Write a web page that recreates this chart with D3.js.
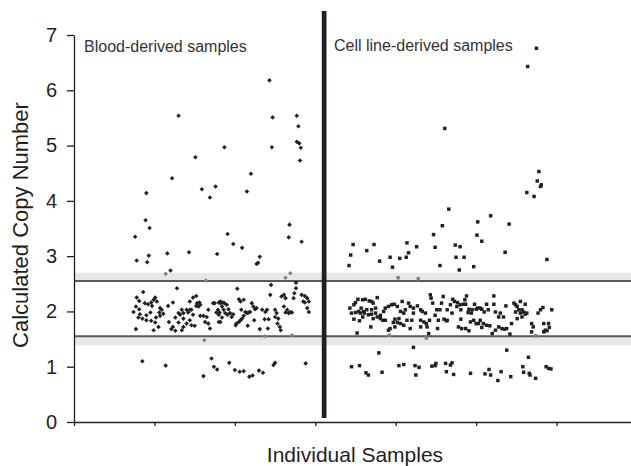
<!DOCTYPE html>
<html><head><meta charset="utf-8">
<script src="https://cdn.jsdelivr.net/npm/d3@7"></script>
<style>body{margin:0;background:#fff} text{font-family:"Liberation Sans",Arial,Helvetica,sans-serif}</style>
</head><body><svg id="chart" width="631" height="466"></svg>
<script>
const yTicks=[0,1,2,3,4,5,6,7];
const xTicks=[0,100,200,300,400,500,600,700];
const groupLabels=["Blood-derived samples","Cell line-derived samples"];
const xTitle="Individual Samples";
const yTitle="Calculated Copy Number";
const cutoffs=[2.55,1.55];
const bands=[[2.53,2.70],[1.39,1.55]];
const dividerSample=311;

// [sample index, calculated copy number]
const bloodPoints=[
[130,5.54],[243,6.18],[247,5.51],[277,5.54],[279,5.35],[277,5.07],[280,5.04],[282,4.96],[187,4.97],[246,4.97],[281,4.73],[151,4.79],[220,4.49],[122,4.41],[159,4.21],[176,4.26],[169,4.06],[215,4.17],[90,4.14],[89,3.65],[94,3.51],[76,3.35],[191,3.40],[198,3.22],[209,3.15],[268,3.57],[267,3.34],[283,3.26],[78,2.92],[93,3.01],[91,2.89],[116,3.05],[143,3.07],[178,3.04],[231,2.99],[227,2.86],[229,2.88],[120,2.74],[276,2.52],[276,2.42],[245,2.48],[86,2.35],[128,2.42],[203,2.41],
[85,1.10],[114,1.02],[171,1.15],[174,1.00],[178,0.95],[161,0.83],[193,1.07],[200,0.94],[206,0.91],[211,0.92],[218,0.82],[222,0.84],[230,0.93],[235,0.89],[248,1.03],[250,1.07],[288,1.06],
[78,2.25],[81,2.19],[77,2.09],[81,2.04],[74,1.99],[82,1.95],[80,1.89],[85,1.87],[77,1.68],[88,2.15],[92,2.13],[96,2.16],[99,2.21],[101,2.25],[103,2.18],[97,2.10],[95,1.98],[90,1.93],[90,1.84],[107,2.06],[109,2.03],[106,1.98],[111,1.96],[107,1.92],[102,1.89],[96,1.83],[101,1.80],[99,1.66],[105,1.72],[117,2.10],[123,2.16],[118,1.81],[126,1.89],[130,1.97],[134,2.03],[132,1.94],[136,1.97],[140,2.03],[142,1.98],[144,2.03],[146,2.03],[136,1.87],[130,1.80],[123,1.72],[121,1.68],[126,1.65],[134,1.66],[136,1.72],[140,1.78],[144,1.84],[146,1.75],[150,1.74],[144,2.18],[148,2.25],[152,2.28],[153,2.15],[156,2.16],[157,2.12],[152,2.10],[155,2.09],[148,1.94],[157,1.92],[161,1.92],[165,1.90],[163,1.81],[167,1.78],[169,1.69],[167,2.03],[173,2.15],[177,1.98],[182,2.15],[181,1.98],[182,1.81],
[175,2.15],[180,2.16],[182,2.18],[185,2.16],[187,2.15],[190,2.12],[184,2.09],[179,2.03],[186,2.03],[192,2.04],[188,1.97],[180,1.94],[184,1.89],[180,1.81],[191,1.94],[194,1.97],[198,1.95],[196,1.90],[205,2.22],[207,2.18],[211,2.21],[208,2.03],[213,1.99],[215,1.97],[217,1.98],[219,1.99],[211,1.92],[209,1.87],[207,1.84],[205,1.81],[202,1.78],[201,1.75],[216,1.74],[221,2.15],[223,2.09],[225,2.04],[227,2.06],[224,1.84],[231,1.68],[234,2.03],[238,1.99],[240,2.03],[237,1.86],[242,1.86],[241,1.69],[244,2.30],[250,2.03],[252,1.97],[250,1.90],[254,1.87],[253,1.78],[256,1.72],[257,1.66],[258,2.27],[261,2.30],[263,2.24],[261,2.09],[263,1.98],[265,2.03],[267,1.97],[269,1.99],[273,2.24],[274,2.33],[271,1.98],[283,2.30],[287,2.28],[290,2.24],[285,2.18],[287,2.16],[292,2.18],[290,2.06],[292,1.99]
];
const bloodGrey=[[114,2.68],[164,2.56],[263,2.61],[269,2.69],[162,1.48],[237,1.55],[271,1.57]];

const cellPoints=[
[575,6.76],[564,6.43],[461,5.31],[578,4.53],[576,4.36],[581,4.29],[580,4.26],[563,4.15],[572,4.08],[466,3.85],[458,3.55],[447,3.39],[502,3.62],[518,3.73],[541,3.58],[501,3.38],[507,3.27],[536,3.07],[588,2.94],[347,3.21],[344,3.02],[342,2.83],[364,3.10],[373,3.21],[380,2.91],[393,2.98],[396,2.80],[405,2.96],[413,2.98],[416,3.06],[414,3.24],[426,3.17],[449,3.16],[455,2.83],[474,3.20],[480,3.17],[475,2.98],[485,2.98],[479,2.75],[497,2.81],
[345,1.00],[355,1.02],[363,0.89],[366,0.85],[379,1.25],[383,0.90],[404,1.02],[410,1.04],[422,1.35],[424,1.02],[429,0.99],[425,0.85],[445,1.01],[450,1.06],[449,1.02],[462,1.06],[470,1.07],[468,1.03],[463,0.91],[472,0.86],[493,0.88],[511,0.87],[518,0.85],[516,0.95],[531,0.91],[527,0.75],[543,0.82],[538,1.30],[565,1.17],[558,1.00],[559,0.90],[566,0.88],[567,0.85],[574,0.79],[587,1.00],[590,0.97],[593,0.96],
[353,2.22],[350,2.16],[348,2.12],[343,2.06],[345,1.97],[350,1.98],[354,2.00],[357,2.06],[359,2.21],[362,2.22],[367,2.19],[370,2.18],[372,2.15],[377,2.25],[375,2.06],[370,2.03],[364,2.03],[360,2.00],[356,1.97],[361,1.97],[366,1.94],[370,1.95],[375,1.97],[348,1.86],[355,1.83],[359,1.90],[372,1.87],[377,1.90],[381,1.87],[384,1.84],[387,1.84],[381,1.93],[369,1.72],[352,1.61],[385,2.00],[387,2.06],[391,2.09],[395,2.12],[398,2.13],[402,2.09],[408,2.18],[406,2.00],[410,1.97],[412,2.03],[416,2.15],[418,2.09],[422,2.06],[427,2.10],[431,2.03],[433,2.00],[437,1.97],[404,1.87],[399,1.86],[397,1.80],[402,1.80],[406,1.78],[410,1.75],[399,1.72],[393,1.69],[391,1.66],[418,1.69],[414,1.84],[420,1.84],[422,1.97],[431,1.84],[435,1.81],[438,1.78],[439,1.72],[431,1.72],[441,1.60],[443,2.30],[444,2.24],[446,2.15],[451,2.03],[455,2.03],[457,2.15],[459,2.27],[449,1.93],[442,1.84],[453,1.84],[460,1.86],[463,1.83],[464,2.03],[452,1.69],
[464,1.84],[468,2.12],[470,1.97],[471,2.22],[473,2.18],[476,2.09],[477,2.16],[480,2.12],[481,2.03],[484,2.13],[486,2.21],[488,2.28],[490,1.98],[487,2.13],[491,2.04],[495,2.03],[494,1.97],[498,2.13],[500,2.04],[502,2.06],[505,2.06],[507,2.04],[510,1.99],[513,2.13],[515,2.03],[522,2.28],[522,2.13],[524,1.99],[528,1.90],[530,1.97],[534,1.90],[537,2.10],[547,2.15],[549,2.12],[551,2.09],[549,1.99],[553,2.03],[555,1.97],[557,2.03],[559,1.99],[561,1.95],[563,1.97],[555,2.18],[561,2.13],[557,1.90],[551,1.87],[544,1.78],[538,1.69],[542,1.59],[532,1.69],[535,1.68],[528,1.72],[524,1.66],[520,1.60],[517,1.74],[513,1.75],[507,1.71],[509,1.78],[503,1.78],[505,1.84],[500,1.78],[497,1.84],[493,1.81],[491,1.65],[487,1.69],[482,1.69],[478,1.72],[481,1.86],[569,1.78],[571,1.72],[569,1.63],[577,1.97],[580,2.03],[583,2.07],[584,1.78],[584,1.63],[586,1.66],[590,1.78],[591,1.71],[594,2.03],[588,1.65]
];
const cellGrey=[[403,2.61],[428,2.59],[392,1.57],[438,1.52],[574,1.56]];

const svg=d3.select("#chart");
const W=631,H=466;
const x=d3.scaleLinear().domain([0,700]).range([74,637]);
const y=d3.scaleLinear().domain([0,7]).range([422,35]);
const ink="#231f20";

// bands
svg.selectAll("rect.band").data(bands).enter().append("rect")
  .attr("class","band")
  .attr("x",x(0)).attr("width",W-x(0))
  .attr("y",d=>y(d[1])).attr("height",d=>y(d[0])-y(d[1]))
  .attr("fill","#e6e7e8");
// cutoff lines
svg.selectAll("line.cut").data(cutoffs).enter().append("line")
  .attr("x1",x(0)).attr("x2",W)
  .attr("y1",d=>y(d)).attr("y2",d=>y(d))
  .attr("stroke","#58595b").attr("stroke-width",2);

// axes
const gx=svg.append("g").attr("transform",`translate(0,${y(0)})`)
  .call(d3.axisBottom(x).tickValues(xTicks).tickSize(4).tickSizeOuter(0).tickFormat(""));
gx.select(".domain").attr("stroke",ink).attr("stroke-width",1.3);
gx.selectAll(".tick line").attr("stroke",ink).attr("stroke-width",1.3);

const gy=svg.append("g").attr("transform",`translate(${x(0)},0)`)
  .call(d3.axisLeft(y).tickValues(yTicks).tickSize(7).tickSizeOuter(0).tickPadding(10).tickFormat(d3.format("d")));
gy.select(".domain").attr("stroke",ink).attr("stroke-width",1.3);
gy.selectAll(".tick line").attr("stroke",ink).attr("stroke-width",1.3);
gy.selectAll(".tick text").attr("fill",ink).style("font-size","20px").style("font-family",'"Liberation Sans",Arial,sans-serif');

// divider
svg.append("line")
  .attr("x1",x(dividerSample)).attr("x2",x(dividerSample))
  .attr("y1",y(7)-24).attr("y2",y(0)-4)
  .attr("stroke",ink).attr("stroke-width",4.7);

// points
const diamond=d3.symbol().type(d3.symbolSquare).size(10.5);
const square=d3.symbol().type(d3.symbolSquare).size(12);
function drawDiamonds(data,color){
  svg.append("g").selectAll("path").data(data).enter().append("path")
    .attr("d",diamond)
    .attr("transform",d=>`translate(${x(d[0])},${y(d[1])}) rotate(45)`)
    .attr("fill",color);
}
function drawSquares(data,color){
  svg.append("g").selectAll("path").data(data).enter().append("path")
    .attr("d",square)
    .attr("transform",d=>`translate(${x(d[0])},${y(d[1])})`)
    .attr("fill",color);
}
drawDiamonds(bloodGrey,"#808285");
drawDiamonds(bloodPoints,ink);
drawSquares(cellGrey,"#808285");
drawSquares(cellPoints,ink);

// group labels
svg.append("text").attr("x",84).attr("y",51.5).text(groupLabels[0])
  .attr("fill","#333").style("font-size","16px");
svg.append("text").attr("x",334).attr("y",51).text(groupLabels[1])
  .attr("fill","#333").style("font-size","16px");

// titles
svg.append("text").attr("x",355).attr("y",461.5).attr("text-anchor","middle")
  .text(xTitle).attr("fill",ink).style("font-size","21px");
svg.append("text").attr("transform","translate(28,225) rotate(-90)").attr("text-anchor","middle")
  .text(yTitle).attr("fill",ink).style("font-size","22px");
</script></body></html>
